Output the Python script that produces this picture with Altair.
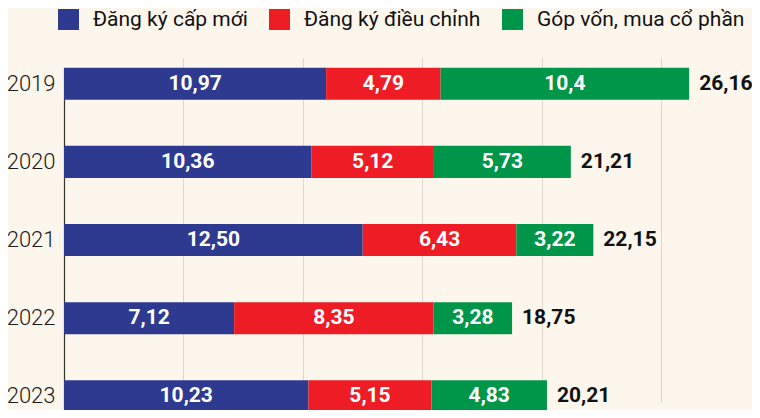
import altair as alt
import pandas as pd

years = ["2019", "2020", "2021", "2022", "2023"]
series = ["Đăng ký cấp mới", "Đăng ký điều chỉnh", "Góp vốn, mua cổ phần"]
new_reg = [10.97, 10.36, 12.50, 7.12, 10.23]
adj_reg = [4.79, 5.12, 6.43, 8.35, 5.15]
capital = [10.4, 5.73, 3.22, 3.28, 4.83]
new_lbl = ["10,97", "10,36", "12,50", "7,12", "10,23"]
adj_lbl = ["4,79", "5,12", "6,43", "8,35", "5,15"]
cap_lbl = ["10,4", "5,73", "3,22", "3,28", "4,83"]
colors = ["#2e3a8f", "#ee1c25", "#00964a"]

rows = []
for i, y in enumerate(years):
    for k, (vals, lbls) in enumerate([(new_reg, new_lbl), (adj_reg, adj_lbl), (capital, cap_lbl)]):
        rows.append({"year": y, "series": series[k], "value": vals[i], "label": lbls[i], "order": k})
df = pd.DataFrame(rows)

yscale = alt.Scale(range=[7.7, 352.4], paddingInner=0.59, paddingOuter=0)
xscale = alt.Scale(domain=[0, 28.79], nice=False, zero=True)
yaxis = alt.Axis(title=None, ticks=False, labelPadding=9, labelFont="Roboto",
                 labelFontWeight=300, labelFontSize=22, labelColor="#1a1a1a",
                 domainColor="#333333", domainWidth=1.2, grid=False)
xaxis = alt.Axis(values=[5, 10, 15, 20, 25], labels=False, ticks=False, domain=False,
                 title=None, grid=True, gridColor="#dcd8d1", gridWidth=1)

base = alt.Chart(df)

bars = base.mark_bar().encode(
    y=alt.Y("year:N", sort=years, scale=yscale, axis=yaxis),
    x=alt.X("value:Q", stack="zero", scale=xscale, axis=xaxis),
    color=alt.Color("series:N", scale=alt.Scale(domain=series, range=colors),
                    legend=alt.Legend(orient="none", legendX=-6, legendY=-51, direction="horizontal",
                                      title=None, symbolType="square", symbolSize=441,
                                      symbolStrokeWidth=0, symbolOpacity=1, labelFont="Roboto",
                                      labelFontSize=21, labelColor="#111111", labelOffset=14,
                                      columnPadding=21, padding=0, labelLimit=400)),
    order=alt.Order("order:Q"),
)

seg_text = base.transform_stack(
    stack="value", groupby=["year"], as_=["x0", "x1"], sort=[alt.SortField("order")]
).transform_calculate(
    mid="(datum.x0 + datum.x1) / 2"
).mark_text(color="white", font="Roboto", fontWeight="bold", fontSize=21, baseline="middle").encode(
    y=alt.Y("year:N", sort=years, scale=yscale, axis=yaxis),
    x=alt.X("mid:Q", scale=xscale, axis=xaxis),
    text="label:N",
)

totals = base.transform_aggregate(
    total="sum(value)", groupby=["year"]
).transform_calculate(
    tl="replace(format(datum.total, '.2f'), '.', ',')"
).mark_text(align="left", dx=10, font="Roboto", fontWeight="bold", fontSize=21,
            color="#111111", baseline="middle").encode(
    y=alt.Y("year:N", sort=years, scale=yscale, axis=yaxis),
    x=alt.X("total:Q", scale=xscale, axis=xaxis),
    text="tl:N",
)

chart = alt.layer(bars, seg_text, totals).properties(
    width=688, height=350, autosize="none",
    padding={"left": 56, "top": 52, "right": 0, "bottom": 0},
).configure(background="#fdf6ec").configure_view(stroke=None)

chart.save("out.html", embed_options={"renderer": "svg", "actions": False})
